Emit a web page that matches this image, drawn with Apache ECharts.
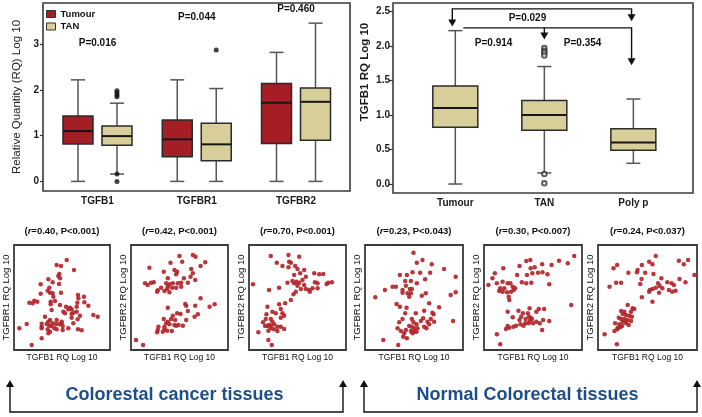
<!DOCTYPE html>
<html>
<head>
<meta charset="utf-8">
<script src="https://cdn.jsdelivr.net/npm/echarts@6/dist/echarts.min.js"></script>
<style>html,body{margin:0;padding:0;background:#fff}#c{width:702px;height:417px}</style>
</head>
<body>
<div id="c"></div>
<script>
// ---------------- DATA ----------------
const geneCategories = ['TGFB1', 'TGFBR1', 'TGFBR2'];
const groupNames = ['Tumour', 'TAN'];
// box values: [min, Q1, median, Q3, max]  (log10 RQ)
const tumourBoxes = [
  [0.00, 0.82, 1.10, 1.43, 2.22],
  [0.00, 0.54, 0.92, 1.34, 2.22],
  [0.00, 0.83, 1.72, 2.14, 2.82]
];
const tanBoxes = [
  [0.16, 0.79, 0.99, 1.21, 1.71],
  [0.00, 0.45, 0.81, 1.27, 2.03],
  [0.00, 0.90, 1.74, 2.04, 3.46]
];
// outliers of TAN boxes: [gene index, value]
const tanOutliers = [[0, 1.98], [0, 1.94], [0, 1.89], [0, 1.85], [0, 0.16], [0, 0.00], [1, 2.87]];
const geneP = ['P=0.016', 'P=0.044', 'P=0.460'];
const leftTicks = [0, 1, 2, 3];

const tissueGroups = ['Tumour', 'TAN', 'Poly p'];
const tgfb1Boxes = [
  [0.00, 0.82, 1.10, 1.42, 2.22],
  [0.16, 0.78, 1.00, 1.21, 1.70],
  [0.30, 0.49, 0.60, 0.80, 1.23]
];
// outliers: [group index, value]
const tgfb1Outliers = [[1, 1.97], [1, 1.93], [1, 1.90], [1, 1.86], [1, 0.145], [1, 0.01]];
const rightTicks = [0, 0.5, 1.0, 1.5, 2.0, 2.5];
const pairP = ['P=0.029', 'P=0.914', 'P=0.354'];

const corrR = [0.40, 0.42, 0.70, 0.23, 0.30, 0.24];
const corrP = ['P<0.001', 'P<0.001', 'P<0.001', 'P<0.043', 'P<0.007', 'P<0.037'];
const scatterYNames = ['TGFBR1 RQ Log 10', 'TGFBR2 RQ Log 10', 'TGFBR2 RQ Log 10', 'TGFBR1 RQ Log 10', 'TGFBR2 RQ Log 10', 'TGFBR2 RQ Log 10'];
const scatterXName = 'TGFB1 RQ Log 10';
const tissueTitles = ['Colorestal cancer tissues', 'Normal Colorectal tissues'];

// scatter points [TGFB1, receptor] (log10 RQ)
const crcTGFBR1 = [[1.58,2.70],[1.28,2.55],[1.41,2.52],[1.80,2.40],[1.36,2.28],[1.33,2.22],[1.38,2.15],[1.03,2.12],[1.16,2.03],[1.35,1.98],[0.80,1.97],[1.06,1.87],[1.01,1.78],[1.08,1.72],[1.16,1.70],[1.41,1.72],[0.80,1.69],[1.92,1.65],[1.18,1.60],[1.93,1.55],[0.61,1.48],[1.10,1.45],[1.23,1.47],[2.10,1.60],[0.46,1.42],[0.56,1.40],[0.70,1.45],[1.10,1.37],[1.90,1.42],[2.11,1.43],[1.38,1.35],[1.56,1.30],[1.68,1.27],[1.63,1.22],[1.73,1.22],[1.88,1.30],[2.23,1.33],[1.13,1.20],[1.48,1.15],[1.88,1.15],[1.53,1.10],[1.73,1.09],[1.78,1.12],[0.93,1.00],[1.98,1.03],[2.38,1.05],[2.51,1.00],[1.73,0.97],[1.08,0.90],[1.28,0.90],[1.91,0.92],[1.43,0.85],[1.03,0.85],[0.83,0.79],[0.38,0.78],[0.98,0.78],[1.16,0.80],[1.26,0.78],[1.36,0.77],[1.43,0.80],[0.83,0.70],[1.06,0.73],[1.13,0.72],[1.46,0.72],[1.78,0.80],[0.16,0.65],[0.83,0.65],[1.01,0.62],[1.21,0.65],[1.63,0.65],[1.28,0.62],[1.46,0.60],[1.92,0.62],[2.03,0.59],[1.03,0.50],[1.08,0.55],[0.83,0.35],[0.53,0.15]];
const crcTGFBR2a = [[1.45,2.82],[1.85,2.85],[1.93,2.80],[2.22,2.63],[1.18,2.62],[1.53,2.65],[0.55,2.47],[2.08,2.52],[1.30,2.40],[1.38,2.35],[1.80,2.43],[0.98,2.35],[1.35,2.27],[1.85,2.30],[1.78,2.20],[1.10,2.15],[1.58,2.15],[1.92,2.10],[0.42,2.00],[0.50,1.95],[0.60,2.02],[0.68,2.03],[1.05,2.00],[1.15,1.97],[1.25,2.00],[1.40,2.00],[1.50,2.02],[1.70,2.02],[1.10,1.90],[1.23,1.87],[0.90,1.87],[0.80,1.79],[0.78,1.75],[1.00,1.77],[1.08,1.83],[1.15,1.73],[1.35,1.87],[1.50,1.90],[2.08,1.55],[1.62,1.38],[1.65,1.33],[1.92,1.33],[2.50,1.37],[2.35,1.30],[1.10,1.27],[1.70,1.17],[1.38,1.10],[1.48,1.08],[1.25,1.03],[1.90,1.00],[2.00,1.07],[0.98,0.93],[1.20,0.93],[1.32,0.90],[1.10,0.85],[1.65,0.90],[1.05,0.80],[1.42,0.75],[1.55,0.73],[1.30,0.75],[0.82,0.70],[1.00,0.70],[1.15,0.77],[1.35,0.73],[1.00,0.63],[1.08,0.58],[0.80,0.60],[0.78,0.53],[1.22,0.57],[0.95,0.55],[0.15,0.30],[0.36,0.15]];
const crcTGFBR2b = [[1.18,2.85],[0.65,2.82],[1.50,2.80],[0.83,2.62],[1.20,2.65],[1.25,2.62],[1.00,2.52],[1.18,2.48],[1.38,2.52],[1.45,2.43],[1.65,2.40],[1.53,2.30],[1.35,2.25],[1.95,2.30],[2.10,2.27],[2.22,2.28],[1.70,2.20],[0.12,1.97],[1.15,2.02],[1.30,2.07],[1.35,2.00],[1.42,2.05],[1.50,2.02],[1.60,2.10],[1.65,1.95],[1.45,1.93],[0.90,1.87],[0.60,1.80],[1.55,1.83],[1.70,1.83],[1.80,1.80],[1.97,2.03],[2.05,2.00],[2.32,1.98],[2.37,2.02],[2.48,2.03],[2.05,1.85],[1.90,1.85],[1.40,1.75],[1.33,1.67],[1.82,1.75],[1.25,1.50],[1.08,1.40],[0.90,1.37],[0.55,1.30],[0.95,1.23],[0.70,1.15],[0.80,1.10],[1.00,1.10],[1.05,1.03],[0.95,0.97],[0.52,1.07],[0.50,0.93],[0.65,0.93],[0.70,0.85],[0.42,0.83],[0.60,0.75],[0.48,0.72],[0.55,0.72],[0.65,0.72],[0.75,0.77],[0.85,0.70],[0.95,0.70],[0.65,0.65],[0.75,0.62],[1.05,0.63],[0.58,0.58],[0.85,0.57],[0.28,0.53],[0.58,0.30],[0.68,0.15]];
const normTGFBR1 = [[1.46,2.92],[1.73,2.70],[1.56,2.62],[2.01,2.57],[2.38,2.43],[1.43,2.33],[1.66,2.32],[1.05,2.25],[1.26,2.25],[1.96,2.32],[2.73,2.20],[1.81,2.12],[1.21,2.07],[1.38,2.07],[1.56,2.00],[0.83,1.90],[0.93,1.90],[1.23,1.93],[1.35,1.83],[1.41,1.83],[1.13,1.80],[0.60,1.80],[1.13,1.72],[1.28,1.70],[0.31,1.58],[1.38,1.70],[2.73,1.73],[2.58,1.65],[1.71,1.63],[1.83,1.70],[1.33,1.60],[0.95,1.38],[1.05,1.30],[1.25,1.27],[1.93,1.40],[2.23,1.28],[1.53,1.10],[1.21,1.10],[1.78,1.18],[2.03,1.12],[2.06,1.07],[1.75,0.95],[1.13,0.93],[1.41,0.93],[1.98,0.93],[1.68,0.87],[2.08,0.85],[1.03,0.83],[1.46,0.83],[1.55,0.77],[1.88,0.85],[1.93,0.77],[2.65,0.87],[0.98,0.65],[1.33,0.72],[1.41,0.70],[1.48,0.65],[1.58,0.65],[1.78,0.70],[1.85,0.65],[1.23,0.60],[1.38,0.57],[1.48,0.55],[1.55,0.55],[1.43,0.50],[1.18,0.50],[1.08,0.57],[1.15,0.40],[1.26,0.35],[0.55,0.30],[1.00,0.15]];
const normTGFBR2a = [[2.67,2.82],[2.22,2.68],[2.48,2.60],[1.25,2.67],[1.37,2.70],[2.00,2.55],[1.72,2.57],[1.50,2.48],[1.38,2.45],[0.57,2.45],[1.05,2.52],[1.60,2.32],[1.73,2.33],[1.43,2.30],[0.98,2.25],[1.27,2.25],[0.32,2.30],[0.25,2.15],[1.88,2.27],[0.38,2.00],[0.13,1.95],[0.55,2.05],[0.70,2.00],[0.78,2.00],[1.12,2.03],[1.25,2.00],[1.40,2.02],[1.93,1.97],[0.48,1.85],[0.60,1.85],[0.85,1.90],[0.92,1.85],[0.88,1.80],[0.45,1.77],[0.55,1.75],[0.80,1.75],[0.68,1.73],[0.73,1.60],[0.75,1.50],[2.58,1.35],[1.35,1.25],[1.62,1.23],[1.78,1.23],[0.70,1.15],[1.02,1.18],[1.15,1.10],[1.30,1.10],[1.55,1.15],[1.33,1.00],[1.38,0.97],[1.42,0.93],[0.85,0.98],[1.10,1.00],[1.23,0.93],[1.05,0.90],[1.35,0.87],[1.75,0.90],[1.55,0.85],[1.93,0.87],[0.95,0.73],[1.08,0.77],[1.22,0.80],[1.32,0.80],[1.45,0.80],[1.65,0.80],[0.70,0.72],[0.65,0.63],[0.75,0.67],[0.87,0.70],[1.17,0.73],[1.72,0.60],[0.38,0.47],[0.48,0.17]];
const normTGFBR2b = [[1.75,2.82],[2.73,2.70],[2.45,2.68],[1.55,2.65],[0.58,2.55],[0.47,2.45],[1.33,2.55],[1.65,2.57],[2.60,2.57],[1.20,2.40],[1.43,2.32],[0.92,2.32],[1.18,2.33],[1.68,2.28],[2.92,2.25],[1.92,2.15],[1.32,2.13],[2.47,2.13],[0.55,2.02],[0.70,2.02],[0.35,1.90],[1.28,1.98],[1.82,2.00],[2.10,2.03],[1.87,1.92],[2.23,2.00],[2.30,1.95],[2.65,2.03],[1.75,1.87],[1.95,1.85],[1.57,1.80],[1.65,1.83],[1.85,1.72],[1.55,1.75],[2.15,1.80],[2.25,1.75],[2.35,1.78],[1.33,1.58],[1.65,1.45],[0.90,1.35],[1.05,1.25],[1.10,1.23],[0.70,1.17],[0.80,1.15],[1.00,1.15],[0.75,1.08],[0.85,1.05],[0.95,1.03],[1.03,1.00],[0.63,0.97],[0.70,0.93],[0.80,0.93],[0.90,0.90],[1.00,0.87],[0.75,0.85],[0.52,0.80],[0.65,0.77],[0.85,0.80],[0.93,0.75],[0.73,0.72],[0.60,0.67],[0.67,0.68],[0.58,0.62],[0.50,0.57],[0.20,0.47],[0.57,0.17],[0.83,0.85]];
const scatterSets = [crcTGFBR1, crcTGFBR2a, crcTGFBR2b, normTGFBR1, normTGFBR2a, normTGFBR2b];

// ---------------- STYLE / LAYOUT ----------------
const FONT = "'Liberation Sans', Arial, Helvetica, sans-serif";
const RED = '#a51d25', TANC = '#d8ce99', DOT = '#b3262b', FRAME = '#3a3a3a', BLUE = '#1c4f8a';
const scatterLeft = [14, 131, 249, 365, 484, 598];
const scatterWidth = [96, 97, 97, 98, 98, 99];
const scatterXMax = [2.88, 2.9, 2.9, 2.95, 2.9, 3.0];
const SC_TOP = 245, SC_H = 105;

function boxRenderer(dodgePx, halfW, capHalf) {
  return function (params, api) {
    const x = api.value(0);
    const pMin = api.coord([x, api.value(1)]);
    const pQ1 = api.coord([x, api.value(2)]);
    const pMd = api.coord([x, api.value(3)]);
    const pQ3 = api.coord([x, api.value(4)]);
    const pMax = api.coord([x, api.value(5)]);
    const cx = pMd[0] + dodgePx;
    const ws = { stroke: '#555', lineWidth: 1.5 };
    return {
      type: 'group',
      children: [
        { type: 'line', shape: { x1: cx, y1: pQ3[1], x2: cx, y2: pMax[1] }, style: ws },
        { type: 'line', shape: { x1: cx, y1: pQ1[1], x2: cx, y2: pMin[1] }, style: ws },
        { type: 'line', shape: { x1: cx - capHalf, y1: pMax[1], x2: cx + capHalf, y2: pMax[1] }, style: ws },
        { type: 'line', shape: { x1: cx - capHalf, y1: pMin[1], x2: cx + capHalf, y2: pMin[1] }, style: ws },
        { type: 'rect', shape: { x: cx - halfW, y: pQ3[1], width: 2 * halfW, height: pQ1[1] - pQ3[1] },
          style: { fill: api.visual('color'), stroke: '#2b2b2b', lineWidth: 1.5 } },
        { type: 'line', shape: { x1: cx - halfW, y1: pMd[1], x2: cx + halfW, y2: pMd[1] }, style: { stroke: '#161616', lineWidth: 2 } }
      ]
    };
  };
}

const chart = echarts.init(document.getElementById('c'), null, { renderer: 'canvas' });

const grids = [
  { left: 43, top: 3, width: 307, height: 188 },
  { left: 393, top: 3, width: 300, height: 190 }
].concat(scatterLeft.map((l, i) => ({ left: l, top: SC_TOP, width: scatterWidth[i], height: SC_H })))
 .map((g, i) => Object.assign(g, { show: true, borderColor: FRAME, borderWidth: i < 2 ? 1.6 : 1.8, backgroundColor: 'transparent', containLabel: false, outerBoundsMode: 'none' }));

const hidden = { axisLine: { show: false }, axisTick: { show: false }, splitLine: { show: false } };
const boldLbl = { fontSize: 10, fontWeight: 'bold', color: '#1a1a1a', fontFamily: FONT };

const xAxes = [
  Object.assign({ gridIndex: 0, type: 'value', min: 0.451, max: 3.544,
    axisLabel: Object.assign({ customValues: [1, 2, 3], formatter: v => geneCategories[Math.round(v) - 1] || '', margin: 5 }, boldLbl) }, hidden),
  Object.assign({ gridIndex: 1, type: 'value', min: 0.30, max: 3.67,
    axisLabel: Object.assign({ customValues: [1, 2, 3], formatter: v => tissueGroups[Math.round(v) - 1] || '', margin: 5 }, boldLbl) }, hidden)
].concat(scatterLeft.map((l, i) => Object.assign({
  gridIndex: i + 2, type: 'value', min: 0, max: scatterXMax[i], axisLabel: { show: false },
  name: scatterXName, nameLocation: 'middle', nameGap: 3,
  nameTextStyle: { fontSize: 8.5, color: '#111', fontFamily: FONT, verticalAlign: 'top' }
}, hidden)));

const yAxes = [
  { gridIndex: 0, type: 'value', min: -0.21, max: 3.9, axisLine: { show: false }, splitLine: { show: false },
    axisTick: { show: true, customValues: leftTicks, length: 3, lineStyle: { color: '#333', width: 1.2 } },
    axisLabel: Object.assign({ customValues: leftTicks, margin: 4 }, boldLbl),
    name: 'Relative Quantity (RQ) Log 10', nameLocation: 'middle', nameGap: 20,
    nameTextStyle: { fontSize: 11.5, color: '#222', fontFamily: FONT } },
  { gridIndex: 1, type: 'value', min: -0.13, max: 2.62, axisLine: { show: false }, splitLine: { show: false },
    axisTick: { show: true, customValues: rightTicks, length: 4, lineStyle: { color: '#333', width: 1.2 } },
    axisLabel: Object.assign({ customValues: rightTicks, margin: 3, formatter: v => v.toFixed(1) }, boldLbl) }
].concat(scatterLeft.map((l, i) => Object.assign({
  gridIndex: i + 2, type: 'value', min: 0, max: 3.15, axisLabel: { show: false },
  name: scatterYNames[i], nameLocation: 'middle', nameGap: 3,
  nameTextStyle: { fontSize: 9.5, color: '#111', fontFamily: FONT }
}, hidden)));

const series = [
  { type: 'custom', name: 'Tumour', xAxisIndex: 0, yAxisIndex: 0, itemStyle: { color: RED },
    renderItem: boxRenderer(-19.5, 15, 7), encode: { x: 0, y: [1, 2, 3, 4, 5] },
    data: tumourBoxes.map((b, i) => [i + 1].concat(b)) },
  { type: 'custom', name: 'TAN', xAxisIndex: 0, yAxisIndex: 0, itemStyle: { color: TANC },
    renderItem: boxRenderer(19.5, 15, 7), encode: { x: 0, y: [1, 2, 3, 4, 5] },
    data: tanBoxes.map((b, i) => [i + 1].concat(b)) },
  { type: 'scatter', name: 'TAN outliers', xAxisIndex: 0, yAxisIndex: 0, symbol: 'circle', symbolSize: 5,
    symbolOffset: [19.5, 0], itemStyle: { color: '#111' }, z: 5,
    data: tanOutliers.map(o => [o[0] + 1, o[1]]) },
  { type: 'custom', name: 'TGFB1', xAxisIndex: 1, yAxisIndex: 1, itemStyle: { color: TANC },
    renderItem: boxRenderer(0, 22.5, 7), encode: { x: 0, y: [1, 2, 3, 4, 5] },
    data: tgfb1Boxes.map((b, i) => [i + 1].concat(b)) },
  { type: 'scatter', name: 'TGFB1 outliers', xAxisIndex: 1, yAxisIndex: 1, symbol: 'emptyCircle', symbolSize: 4.5,
    itemStyle: { color: '#333', borderWidth: 1 }, z: 5,
    data: tgfb1Outliers.map(o => [o[0] + 1, o[1]]) }
].concat(scatterSets.map((d, i) => ({
  type: 'scatter', name: 'panel' + i, xAxisIndex: i + 2, yAxisIndex: i + 2, symbol: 'circle', symbolSize: 4.5,
  itemStyle: { color: DOT, opacity: 0.92 }, data: d
})));

chart.setOption({
  animation: false,
  textStyle: { fontFamily: FONT },
  grid: grids,
  xAxis: xAxes,
  yAxis: yAxes,
  legend: {
    data: groupNames, orient: 'vertical', left: 46, top: 9, itemWidth: 9, itemHeight: 7, itemGap: 2.5,
    icon: 'rect', padding: 0, selectedMode: false,
    itemStyle: { borderColor: '#333', borderWidth: 1 },
    textStyle: { fontSize: 9.5, fontWeight: 'bold', color: '#111', fontFamily: FONT }
  },
  series: series
});

// ---------------- ANNOTATIONS ----------------
const toPx = (gi, x, y) => chart.convertToPixel({ gridIndex: gi }, [x, y]);
const g = [];
const txt = (p, text, size, fill, extra) => Object.assign({
  type: 'text', x: p[0], y: p[1], silent: true,
  style: { text: text, fontSize: size, fontWeight: 'bold', fontFamily: FONT, fill: fill || '#111', align: 'center', verticalAlign: 'middle' }
}, extra || {});
const line = pts => ({ type: 'polyline', silent: true, shape: { points: pts }, style: { stroke: '#111', lineWidth: 1.4, fill: null } });
const arrowDown = t => ({ type: 'polygon', silent: true, shape: { points: [[t[0] - 4, t[1] - 7], [t[0] + 4, t[1] - 7], [t[0], t[1]]] }, style: { fill: '#111' } });
const arrowUp = t => ({ type: 'polygon', silent: true, shape: { points: [[t[0] - 4, t[1] + 7], [t[0] + 4, t[1] + 7], [t[0], t[1]]] }, style: { fill: '#111' } });

// top-left P values above each gene pair
const genePY = [3.03, 3.59, 3.77];
geneP.forEach((t, i) => g.push(txt(toPx(0, i + 1, genePY[i]), t, 10)));

// top-right comparison brackets
const yA = 2.535, yB = 2.26;
const aL = toPx(1, 0.966, yA), aLt = toPx(1, 0.966, 2.28), aR = toPx(1, 2.98, yA), aRt = toPx(1, 2.98, 2.355);
g.push(line([[aLt[0], aLt[1] - 5], aL, aR, [aRt[0], aRt[1] - 5]]), arrowDown(aLt), arrowDown(aRt));
const bS = toPx(1, 1.09, yB), bE = toPx(1, 2.98, yB), bT = toPx(1, 2.0, yB), bTt = toPx(1, 2.0, 2.09), bEt = toPx(1, 2.98, 1.72);
g.push(line([bS, bE, [bEt[0], bEt[1] - 5]]), line([bT, [bTt[0], bTt[1] - 5]]), arrowDown(bTt), arrowDown(bEt));
g.push(txt(toPx(1, 1.81, 2.405), pairP[0], 10), txt(toPx(1, 1.43, 2.04), pairP[1], 10), txt(toPx(1, 2.43, 2.04), pairP[2], 10));
g.push(txt([365, 72], 'TGFB1 RQ Log 10', 11.5, '#1a1a1a', { rotation: Math.PI / 2 }));

// scatter titles
scatterLeft.forEach((l, i) => {
  g.push({
    type: 'text', x: l + scatterWidth[i] / 2, y: 231, silent: true,
    style: {
      text: '({i|r}=' + corrR[i].toFixed(2) + ', ' + corrP[i] + ')',
      fontSize: 9.5, fontWeight: 'bold', fontFamily: FONT, fill: '#111', align: 'center', verticalAlign: 'middle',
      rich: { i: { fontSize: 9.5, fontWeight: 'bold', fontStyle: 'italic', fontFamily: FONT, fill: '#111' } }
    }
  });
});

// bottom group brackets
const brackets = [[10, 343], [364, 697]];
brackets.forEach((b, i) => {
  g.push(line([[b[0], 386], [b[0], 412], [b[1], 412], [b[1], 386]]), arrowUp([b[0], 380]), arrowUp([b[1], 380]));
  g.push(txt([(b[0] + b[1]) / 2 + (i === 0 ? -2 : -3), 395], tissueTitles[i], 18, BLUE));
});

chart.setOption({ graphic: { elements: g } });
</script>
</body>
</html>
